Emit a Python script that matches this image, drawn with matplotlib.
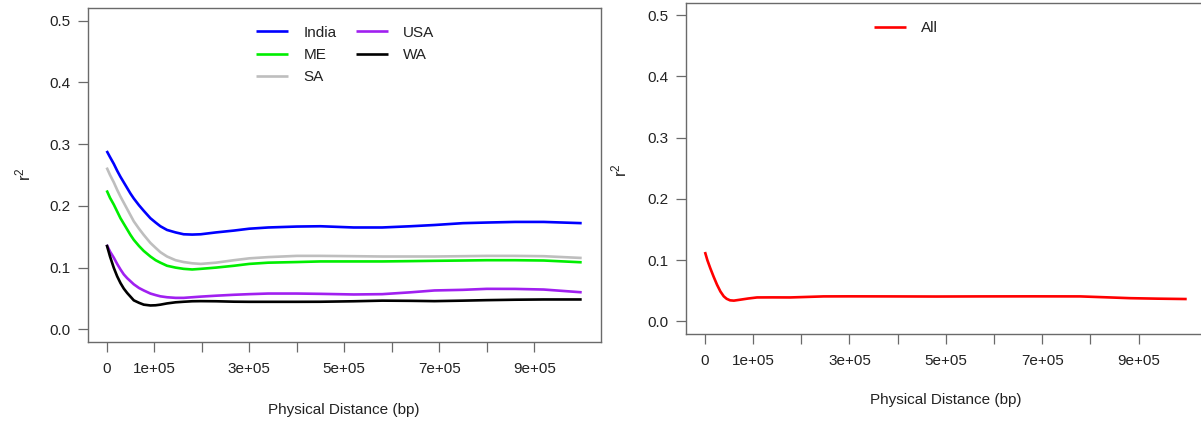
import matplotlib
matplotlib.use("Agg")
import matplotlib.pyplot as plt

plt.rcParams['font.family'] = ['Liberation Sans', 'DejaVu Sans']
plt.rcParams['mathtext.fontset'] = 'custom'
plt.rcParams['mathtext.rm'] = 'Liberation Sans'
plt.rcParams['mathtext.it'] = 'Liberation Sans:italic'

# ---------------- data ----------------
# physical distance (bp), left panel
dist_pop = [0, 7000, 15000, 22000, 29000, 36000, 43000, 50000, 57000, 68000, 78000,
            92000, 103000, 113000, 127000, 145000, 162000, 180000, 198000, 230000,
            268000, 300000, 340000, 400000, 450000, 520000, 580000, 640000, 690000,
            750000, 800000, 860000, 920000, 1000000]
india = [0.289, 0.279, 0.268, 0.257, 0.247, 0.238, 0.229, 0.220, 0.212, 0.201, 0.192,
         0.180, 0.173, 0.167, 0.161, 0.157, 0.154, 0.1535, 0.154, 0.157,
         0.160, 0.163, 0.165, 0.1665, 0.167, 0.165, 0.165, 0.167, 0.169,
         0.172, 0.173, 0.174, 0.174, 0.172]
me = [0.225, 0.213, 0.202, 0.191, 0.180, 0.171, 0.162, 0.153, 0.145, 0.135, 0.127,
      0.118, 0.112, 0.108, 0.103, 0.100, 0.098, 0.097, 0.098, 0.100,
      0.103, 0.106, 0.108, 0.109, 0.110, 0.110, 0.110, 0.1105, 0.111,
      0.1115, 0.112, 0.112, 0.1115, 0.1086]
sa = [0.262, 0.250, 0.238, 0.226, 0.215, 0.205, 0.195, 0.185, 0.175, 0.163, 0.153,
      0.140, 0.132, 0.125, 0.118, 0.112, 0.109, 0.107, 0.106, 0.108,
      0.112, 0.115, 0.117, 0.119, 0.119, 0.1185, 0.118, 0.118, 0.118,
      0.1185, 0.119, 0.119, 0.1185, 0.1156]
usa = [0.137, 0.126, 0.116, 0.106, 0.097, 0.089, 0.083, 0.078, 0.073, 0.067, 0.063,
       0.058, 0.0555, 0.0535, 0.052, 0.051, 0.051, 0.052, 0.053, 0.0545,
       0.056, 0.057, 0.058, 0.058, 0.0575, 0.0565, 0.057, 0.060, 0.063,
       0.064, 0.0656, 0.0655, 0.0645, 0.060]
wa = [0.137, 0.118, 0.0995, 0.086, 0.075, 0.066, 0.059, 0.053, 0.047, 0.043, 0.040,
      0.0387, 0.039, 0.040, 0.042, 0.0438, 0.0447, 0.0455, 0.0457, 0.0455,
      0.0448, 0.0446, 0.0446, 0.0446, 0.0447, 0.0455, 0.0465, 0.0462, 0.0457,
      0.0465, 0.0473, 0.048, 0.0484, 0.0484]

# right panel
dist_all = [0, 5000, 11000, 18000, 25000, 32000, 39000, 45000, 52000, 60000, 73000,
            90000, 108000, 140000, 177000, 210000, 246000, 300000, 384000, 480000,
            571000, 680000, 779000, 830000, 883000, 940000, 1000000]
all_pop = [0.1134, 0.100, 0.087, 0.073, 0.060, 0.049, 0.041, 0.037, 0.0345, 0.034,
           0.0355, 0.0375, 0.0392, 0.0393, 0.0392, 0.040, 0.0409, 0.041, 0.0409,
           0.0407, 0.0409, 0.041, 0.0409, 0.0395, 0.038, 0.0372, 0.0366]

series_left = [("India", india, "#0000FF"), ("ME", me, "#00EE00"), ("SA", sa, "#BEBEBE"),
               ("USA", usa, "#A020F0"), ("WA", wa, "#000000")]

x_ticks = [0, 100000, 200000, 300000, 400000, 500000, 600000, 700000, 800000, 900000]
x_ticklabels = ["0", "1e+05", "", "3e+05", "", "5e+05", "", "7e+05", "", "9e+05"]
y_ticks = [0.0, 0.1, 0.2, 0.3, 0.4, 0.5]
y_ticklabels = ["0.0", "0.1", "0.2", "0.3", "0.4", "0.5"]

W, H = 1201, 425
fig = plt.figure(figsize=(W / 100, H / 100), dpi=100)

frame_col = "#6a6a6a"
text_col = "#222222"

def px_axes(l, t, r, b):
    return fig.add_axes([l / W, 1 - b / H, (r - l) / W, (b - t) / H])

ax1 = px_axes(87.7, 8.3, 600.7, 341.7)
ax2 = px_axes(685.7, 3.0, 1206.0, 333.7)

for ax in (ax1, ax2):
    ax.set_xlim(-40000, 1040000)
    ax.set_ylim(-0.02, 0.52)
    ax.set_xticks(x_ticks)
    ax.set_xticklabels(x_ticklabels)
    ax.set_yticks(y_ticks)
    ax.set_yticklabels(y_ticklabels)
    for s in ax.spines.values():
        s.set_color(frame_col)
        s.set_linewidth(1.0)
    ax.tick_params(direction='out', length=7.2, width=0.9, color=frame_col,
                   labelsize=11, labelcolor=text_col)
    ax.tick_params(axis='y', pad=5.5)
    ax.tick_params(axis='x', pad=7.5)
    ax.set_xlabel("Physical Distance (bp)", fontsize=11, color=text_col)

ax1.xaxis.set_label_coords(0.5, -0.183)
ax2.xaxis.set_label_coords(0.5, -0.180)

for name, vals, col in series_left:
    ax1.plot(dist_pop, vals, color=col, lw=1.9, label=name, solid_capstyle='butt',
             solid_joinstyle='round')

ax2.plot(dist_all, all_pop, color="#FF0000", lw=1.9, label="All", solid_capstyle='butt',
         solid_joinstyle='round')

leg1 = ax1.legend(loc='upper left', bbox_to_anchor=(0.328, 0.948), ncol=2, frameon=False,
                  fontsize=11, borderpad=0, handlelength=2.1, handletextpad=1.0,
                  columnspacing=1.25, labelspacing=0.55, borderaxespad=0)
leg2 = ax2.legend(loc='upper left', bbox_to_anchor=(0.362, 0.945), frameon=False,
                  fontsize=11, borderpad=0, handlelength=2.1, handletextpad=1.0,
                  borderaxespad=0)
for leg in (leg1, leg2):
    for t in leg.get_texts():
        t.set_color(text_col)

fig.text(23 / W, 1 - 174 / H, r"$\mathregular{r^2}$", rotation=90, ha='center', va='center',
         fontsize=12, color=text_col)
fig.text(619 / W, 1 - 170 / H, r"$\mathregular{r^2}$", rotation=90, ha='center', va='center',
         fontsize=12, color=text_col)

fig.savefig("out.png", dpi=100)
